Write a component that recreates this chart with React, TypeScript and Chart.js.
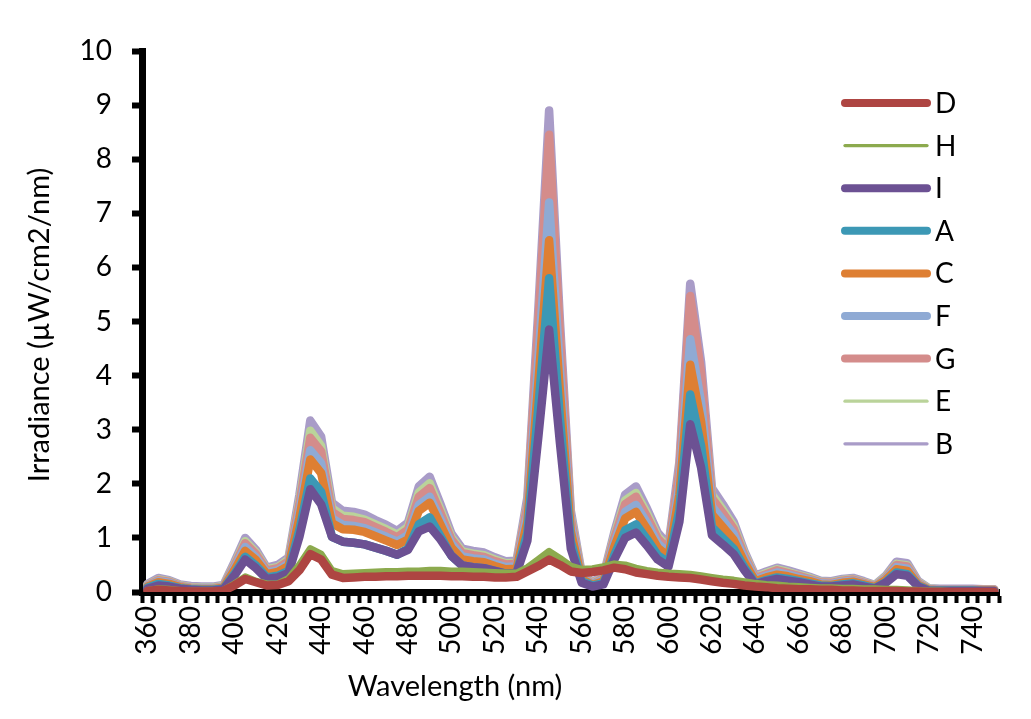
import React, { useEffect, useRef } from "react";
import { Chart, registerables } from "chart.js";

Chart.register(...registerables);

const wavelengths = [
  360, 365, 370, 375, 380, 385, 390, 395, 400, 405,
  410, 415, 420, 425, 430, 435, 440, 445, 450, 455,
  460, 465, 470, 475, 480, 485, 490, 495, 500, 505,
  510, 515, 520, 525, 530, 535, 540, 545, 550, 555,
  560, 565, 570, 575, 580, 585, 590, 595, 600, 605,
  610, 615, 620, 625, 630, 635, 640, 645, 650, 655,
  660, 665, 670, 675, 680, 685, 690, 695, 700, 705,
  710, 715, 720, 725, 730, 735, 740, 745, 750,
];

const seriesD = [
  0.02, 0.04, 0.03, 0.02, 0.01, 0.01, 0.01, 0.02, 0.12, 0.24,
  0.18, 0.12, 0.13, 0.2, 0.4, 0.7, 0.6, 0.32, 0.26, 0.27,
  0.28, 0.28, 0.29, 0.29, 0.3, 0.3, 0.3, 0.3, 0.29, 0.29,
  0.28, 0.28, 0.27, 0.27, 0.28, 0.38, 0.48, 0.6, 0.5, 0.38,
  0.35, 0.37, 0.4, 0.45, 0.42, 0.36, 0.33, 0.3, 0.28, 0.27,
  0.26, 0.23, 0.2, 0.17, 0.15, 0.12, 0.1, 0.09, 0.07, 0.06,
  0.05, 0.05, 0.04, 0.04, 0.03, 0.03, 0.02, 0.02, 0.02, 0.02,
  0.01, 0.01, 0, 0, 0, 0, 0, 0, 0,
];
const seriesH = [
  0.03, 0.06, 0.05, 0.03, 0.02, 0.02, 0.02, 0.03, 0.15, 0.28,
  0.2, 0.15, 0.15, 0.25, 0.5, 0.8, 0.7, 0.4, 0.34, 0.35,
  0.36, 0.37, 0.38, 0.38, 0.39, 0.39, 0.4, 0.4, 0.39, 0.39,
  0.38, 0.37, 0.36, 0.35, 0.35, 0.45, 0.6, 0.75, 0.62, 0.48,
  0.42, 0.43, 0.47, 0.52, 0.5, 0.44, 0.4, 0.37, 0.35, 0.34,
  0.33, 0.3, 0.27, 0.24, 0.22, 0.19, 0.16, 0.14, 0.13, 0.11,
  0.1, 0.09, 0.08, 0.08, 0.07, 0.07, 0.06, 0.06, 0.05, 0.05,
  0.04, 0.03, 0.02, 0.02, 0.01, 0.01, 0.01, 0.01, 0.01,
];
const seriesI = [
  0.06, 0.12, 0.1, 0.06, 0.04, 0.03, 0.03, 0.05, 0.3, 0.6,
  0.44, 0.24, 0.27, 0.35, 1.02, 1.9, 1.62, 1.02, 0.93, 0.91,
  0.88, 0.82, 0.76, 0.69, 0.78, 1.12, 1.21, 0.97, 0.67, 0.49,
  0.46, 0.44, 0.39, 0.34, 0.35, 0.95, 2.85, 4.85, 2.75, 0.8,
  0.17, 0.1, 0.14, 0.6, 1.0, 1.1, 0.86, 0.6, 0.47, 1.3,
  3.1, 2.3, 1.05, 0.88, 0.7, 0.4, 0.14, 0.2, 0.24, 0.21,
  0.18, 0.14, 0.1, 0.1, 0.12, 0.14, 0.1, 0.06, 0.17, 0.33,
  0.3, 0.1, 0.02, 0.02, 0.02, 0.02, 0.02, 0.02, 0.02,
];
const seriesA = [
  0.08, 0.15, 0.12, 0.07, 0.05, 0.04, 0.04, 0.06, 0.33, 0.65,
  0.49, 0.27, 0.3, 0.39, 1.15, 2.1, 1.85, 1.02, 0.93, 0.91,
  0.88, 0.82, 0.76, 0.69, 0.8, 1.25, 1.38, 1.03, 0.67, 0.49,
  0.46, 0.44, 0.39, 0.34, 0.35, 1.1, 3.4, 5.8, 3.2, 0.93,
  0.2, 0.12, 0.16, 0.68, 1.14, 1.25, 0.98, 0.68, 0.54, 1.52,
  3.65, 2.7, 1.2, 1.0, 0.8, 0.45, 0.16, 0.22, 0.27, 0.24,
  0.2, 0.16, 0.12, 0.11, 0.14, 0.16, 0.12, 0.07, 0.18, 0.36,
  0.33, 0.11, 0.03, 0.03, 0.03, 0.03, 0.03, 0.02, 0.02,
];
const seriesC = [
  0.1, 0.18, 0.15, 0.09, 0.06, 0.05, 0.05, 0.08, 0.4, 0.76,
  0.59, 0.33, 0.37, 0.48, 1.37, 2.45, 2.2, 1.27, 1.16, 1.15,
  1.11, 1.03, 0.95, 0.87, 0.97, 1.5, 1.65, 1.24, 0.82, 0.6,
  0.57, 0.55, 0.48, 0.42, 0.43, 1.3, 3.85, 6.5, 3.7, 1.12,
  0.24, 0.13, 0.2, 0.83, 1.36, 1.48, 1.17, 0.82, 0.65, 1.8,
  4.2, 3.15, 1.43, 1.2, 0.96, 0.55, 0.2, 0.27, 0.32, 0.29,
  0.24, 0.2, 0.14, 0.13, 0.17, 0.19, 0.14, 0.09, 0.22, 0.42,
  0.39, 0.13, 0.04, 0.03, 0.03, 0.03, 0.03, 0.03, 0.03,
];
const seriesF = [
  0.11, 0.2, 0.17, 0.1, 0.07, 0.06, 0.06, 0.09, 0.44, 0.83,
  0.64, 0.36, 0.4, 0.52, 1.48, 2.62, 2.38, 1.36, 1.24, 1.22,
  1.18, 1.1, 1.02, 0.93, 1.05, 1.61, 1.76, 1.34, 0.89, 0.66,
  0.62, 0.6, 0.52, 0.46, 0.47, 1.43, 4.25, 7.2, 4.1, 1.23,
  0.27, 0.14, 0.23, 0.9, 1.48, 1.61, 1.28, 0.9, 0.71, 1.97,
  4.67, 3.5, 1.58, 1.33, 1.07, 0.61, 0.23, 0.3, 0.36, 0.32,
  0.27, 0.22, 0.16, 0.15, 0.19, 0.21, 0.15, 0.1, 0.24, 0.46,
  0.43, 0.15, 0.04, 0.04, 0.04, 0.04, 0.04, 0.03, 0.03,
];
const seriesG = [
  0.12, 0.22, 0.19, 0.11, 0.08, 0.07, 0.07, 0.1, 0.48, 0.9,
  0.7, 0.4, 0.44, 0.57, 1.62, 2.85, 2.6, 1.48, 1.35, 1.33,
  1.29, 1.2, 1.11, 1.01, 1.15, 1.76, 1.92, 1.46, 0.97, 0.72,
  0.68, 0.65, 0.57, 0.51, 0.52, 1.6, 4.95, 8.45, 4.75, 1.36,
  0.3, 0.15, 0.26, 0.99, 1.62, 1.76, 1.4, 0.99, 0.78, 2.25,
  5.47, 4.05, 1.73, 1.46, 1.17, 0.67, 0.26, 0.33, 0.4, 0.35,
  0.3, 0.24, 0.18, 0.17, 0.21, 0.23, 0.17, 0.11, 0.26, 0.5,
  0.47, 0.17, 0.05, 0.05, 0.05, 0.05, 0.05, 0.04, 0.04,
];
const seriesE = [
  0.13, 0.23, 0.2, 0.12, 0.09, 0.08, 0.08, 0.11, 0.5, 0.94,
  0.73, 0.42, 0.46, 0.6, 1.68, 2.98, 2.7, 1.55, 1.41, 1.39,
  1.34, 1.25, 1.16, 1.06, 1.2, 1.84, 2.01, 1.52, 1.01, 0.75,
  0.71, 0.68, 0.6, 0.53, 0.54, 1.63, 4.85, 8.28, 4.65, 1.4,
  0.32, 0.16, 0.27, 1.03, 1.69, 1.83, 1.46, 1.03, 0.81, 2.23,
  5.3, 3.96, 1.8, 1.52, 1.22, 0.7, 0.27, 0.35, 0.42, 0.37,
  0.31, 0.26, 0.19, 0.18, 0.22, 0.24, 0.18, 0.12, 0.28, 0.52,
  0.49, 0.18, 0.06, 0.05, 0.05, 0.05, 0.05, 0.04, 0.04,
];
const seriesB = [
  0.15, 0.26, 0.22, 0.14, 0.11, 0.1, 0.1, 0.13, 0.55, 1.0,
  0.78, 0.45, 0.5, 0.64, 1.8, 3.17, 2.87, 1.65, 1.5, 1.48,
  1.43, 1.33, 1.24, 1.13, 1.28, 1.95, 2.13, 1.62, 1.08, 0.8,
  0.76, 0.73, 0.64, 0.57, 0.58, 1.75, 5.2, 8.9, 5.0, 1.5,
  0.35, 0.18, 0.3, 1.1, 1.8, 1.95, 1.55, 1.1, 0.87, 2.4,
  5.7, 4.25, 1.92, 1.62, 1.3, 0.75, 0.3, 0.38, 0.45, 0.4,
  0.34, 0.28, 0.21, 0.2, 0.24, 0.26, 0.2, 0.13, 0.3, 0.56,
  0.53, 0.2, 0.07, 0.06, 0.06, 0.06, 0.06, 0.05, 0.05,
];

const seriesNames = ["D", "H", "I", "A", "C", "F", "G", "E", "B"];
const seriesValues = [seriesD, seriesH, seriesI, seriesA, seriesC, seriesF, seriesG, seriesE, seriesB];
const seriesColors = [
  "#AE4542", "#8CAA4E", "#6C5193", "#3C98B5", "#DE7F33",
  "#8FAAD4", "#D48C8B", "#BAD39A", "#A99CC8",
];
const plotWidths = [8.5, 7, 8.5, 8.5, 8.5, 8.5, 8.5, 8.5, 8.5];
const legendWidths = [8, 3.3, 8, 8, 8, 8, 8, 3.3, 3.3];

const yTitle = "Irradiance (µW/cm2/nm)";
const xTitle = "Wavelength (nm)";
const FONT = "Lato, 'Open Sans', sans-serif";

export default function App() {
  const ref = useRef<HTMLCanvasElement | null>(null);

  useEffect(() => {
    if (!ref.current) return;
    const labels = wavelengths.map(String);

    const overlay = {
      id: "overlay",
      afterDraw(chart: any) {
        const ctx = chart.ctx;
        ctx.save();
        ctx.lineCap = "round";
        ctx.font = `28px ${FONT}`;
        ctx.textBaseline = "middle";
        ctx.textAlign = "left";
        seriesNames.forEach((name, i) => {
          const y = 103 + i * 42.6;
          ctx.strokeStyle = seriesColors[i];
          ctx.lineWidth = legendWidths[i];
          ctx.beginPath();
          ctx.moveTo(845, y);
          ctx.lineTo(927, y);
          ctx.stroke();
          ctx.fillStyle = "#000";
          ctx.fillText(name, 935, y + 1);
        });
        ctx.font = `29px ${FONT}`;
        ctx.textAlign = "center";
        ctx.fillStyle = "#000";
        ctx.fillText(xTitle, 455, 687);
        ctx.translate(40, 325);
        ctx.rotate(-Math.PI / 2);
        ctx.fillText(yTitle, 0, 0);
        ctx.restore();
      },
    };

    const chart = new Chart(ref.current, {
      type: "line",
      data: {
        labels,
        datasets: seriesNames.map((name, i) => ({
          label: name,
          data: seriesValues[i],
          borderColor: seriesColors[i],
          backgroundColor: seriesColors[i],
          borderWidth: plotWidths[i],
          pointRadius: 0,
          tension: 0,
          borderCapStyle: "round" as const,
          borderJoinStyle: "round" as const,
          fill: false,
        })),
      },
      options: {
        animation: false,
        responsive: false,
        layout: { padding: { left: 0, right: 29, top: 51, bottom: 0 } },
        plugins: {
          legend: { display: false },
          tooltip: { enabled: false },
        },
        scales: {
          x: {
            type: "category",
            offset: true,
            z: 1,
            grid: {
              offset: true,
              drawOnChartArea: false,
              tickLength: 11,
              tickWidth: 4,
              tickColor: "#000",
            },
            border: { color: "#000", width: 7 },
            ticks: {
              autoSkip: false,
              minRotation: 90,
              maxRotation: 90,
              padding: 3,
              color: "#000",
              font: { family: FONT, size: 28 },
              callback: (_v: any, i: number) => (i % 4 === 0 ? labels[i] : ""),
            },
            afterFit: (s: any) => {
              s.height = 127;
            },
          },
          y: {
            min: 0,
            max: 10,
            z: 1,
            grid: {
              drawOnChartArea: false,
              tickLength: 10,
              tickWidth: 6,
              tickColor: "#000",
            },
            border: { color: "#000", width: 7 },
            ticks: {
              stepSize: 1,
              padding: 20,
              color: "#000",
              font: { family: FONT, size: 28 },
            },
            afterFit: (s: any) => {
              s.width = 142;
            },
          },
        },
      },
      plugins: [overlay],
    });
    return () => chart.destroy();
  }, []);

  return (
    <div style={{ position: "fixed", left: 0, top: 0, width: 1031, height: 719, background: "#fff" }}>
      <canvas ref={ref} width={1031} height={719} style={{ width: 1031, height: 719, display: "block" }} />
    </div>
  );
}
